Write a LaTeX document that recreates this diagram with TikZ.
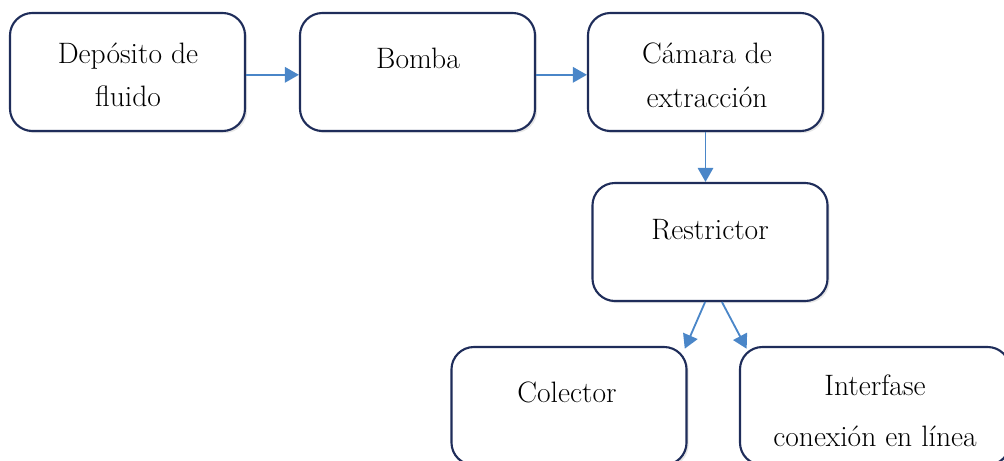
\documentclass[tikz,border=0pt]{standalone}
\usepackage{tikz}
\usetikzlibrary{arrows.meta,shadows}
\definecolor{boxnavy}{RGB}{31,45,90}
\definecolor{arrowblue}{RGB}{74,134,200}

\begin{document}
\begin{tikzpicture}[x=0.025cm, y=-0.025cm,
  box/.style={draw=boxnavy, line width=1.5pt, rounded corners=16pt, fill=white,
    minimum width=5.875cm, minimum height=2.95cm,
    drop shadow={opacity=0.2, shadow xshift=1.5pt, shadow yshift=-1.5pt}},
  lbl/.style={font=\fontsize{21}{31}\selectfont, align=center},
  link/.style={draw=arrowblue, line width=1.3pt, -{Triangle[length=10pt,width=11pt]}}]
\useasboundingbox (0,0) rectangle (1004,460);
\clip (0,0) rectangle (1004,460);
% boxes
\node[box] (1) at (127.5,72) {};
\node[box] (2) at (417.5,72) {};
\node[box] (3) at (705.5,72) {};
\node[box] (4) at (710,242) {};
\node[box] (5) at (569,406) {};
\node[box, minimum width=6.75cm] (6) at (875,406) {};
% texts
\node[lbl] (l1) at (128,75) {Depósito de\\fluido};
\node[lbl] (l2) at (418,58) {Bomba};
\node[lbl] (l3) at (707,75) {Cámara de\\extracción};
\node[lbl] (l4) at (710,230) {Restrictor};
\node[lbl] (l5) at (567,392) {Colector};
\node[lbl] (l6) at (875,411) {Interfase\\[5pt]conexión en línea};
% arrows
\draw[link] ([yshift=-2pt]1.east) -- ([yshift=-2pt]2.west);
\draw[link] ([yshift=-2pt]2.east) -- ([yshift=-2pt]3.west);
\draw[link] (3.south) -- (3.south |- 4.north);
\draw[link] ([xshift=-3.5pt]4.south) -- ([xshift=-2pt,yshift=-2pt]5.north east);
\draw[link] ([xshift=8.5pt]4.south) -- ([xshift=5.5pt,yshift=-2pt]6.north west);
\end{tikzpicture}
\end{document}
